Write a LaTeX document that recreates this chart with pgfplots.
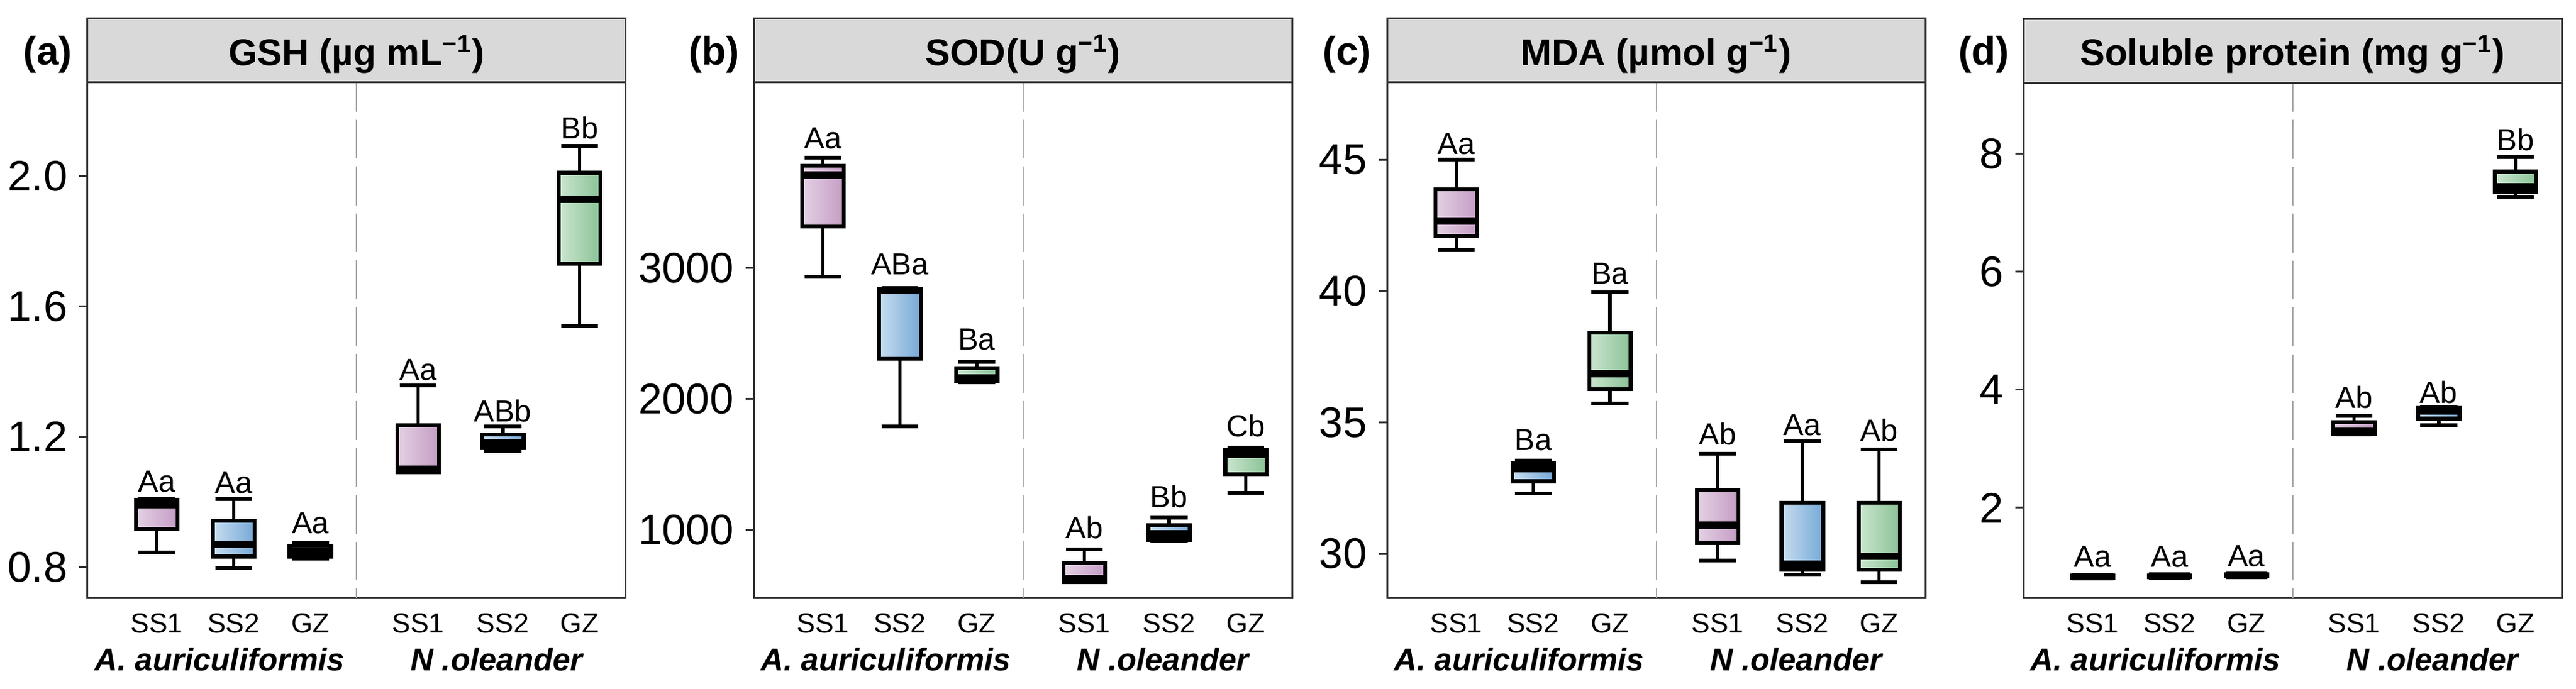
\documentclass[border=0pt]{standalone}
\usepackage{fontspec}
\setmainfont{Liberation Sans}
\usepackage{pgfplots}
\pgfplotsset{compat=1.18}
\definecolor{frame}{RGB}{51,51,51}
\definecolor{stripgray}{RGB}{217,217,217}
\definecolor{sepgray}{RGB}{168,168,168}
\definecolor{pinkL}{RGB}{228,210,228}
\definecolor{pinkD}{RGB}{196,156,196}
\definecolor{blueL}{RGB}{200,222,240}
\definecolor{blueD}{RGB}{118,168,214}
\definecolor{greenL}{RGB}{204,230,208}
\definecolor{greenD}{RGB}{138,194,150}

% box: left, centre, right, lower whisker, q1, median, q3, upper whisker, colour
\newcommand{\mbx}[9]{%
\addplot[draw=black, line width=1.1pt] coordinates {(#2,#4) (#2,#5)};
\addplot[draw=black, line width=1.1pt] coordinates {(#2,#7) (#2,#8)};
\addplot[draw=black, line width=1.3pt, left color=#9L, right color=#9D] coordinates {(#1,#5) (#3,#5) (#3,#7) (#1,#7)} -- cycle;
\addplot[draw=black, line width=2.3pt] coordinates {(#1,#6) (#3,#6)};}
% whisker caps: left, right, lower whisker, upper whisker
\newcommand{\cp}[4]{%
\addplot[draw=black, line width=1.2pt] coordinates {(#1,#3) (#2,#3)};
\addplot[draw=black, line width=1.2pt] coordinates {(#1,#4) (#2,#4)};}

\newcommand{\lab}[3]{\node[anchor=base, inner sep=0pt, font=\fontsize{9.8}{10}\selectfont] at (axis cs:#1,#2) {#3};}
\newcommand{\cat}[2]{\node[anchor=north, inner sep=0pt, font=\fontsize{8.9}{9}\selectfont] at ([yshift=-4.7pt]rel axis cs:#1,0) {#2};}

\newcommand{\decor}[2]{%
  \draw[sepgray, line width=0.4pt, dash pattern=on 12.5pt off 2.6pt, dash phase=-12pt] (rel axis cs:0.5,1) -- (rel axis cs:0.5,0);
  \draw[fill=stripgray, draw=frame, line width=0.6pt] (rel axis cs:0,1) rectangle ([yshift=20.6pt]rel axis cs:1,1);
  \node[font=\bfseries\fontsize{12}{12}\selectfont, inner sep=0pt] at ([yshift=9.1pt]rel axis cs:0.5,1) {#1};
  \node[font=\bfseries\fontsize{12.8}{13}\selectfont, inner sep=0pt] at ([xshift=-12.8pt,yshift=9.1pt]rel axis cs:0,1) {#2};
  \cat{0.12857}{SS1}\cat{0.27143}{SS2}\cat{0.41429}{GZ}
  \cat{0.61429}{SS1}\cat{0.77143}{SS2}\cat{0.91429}{GZ}
  \node[anchor=north, inner sep=0pt, font=\bfseries\itshape\fontsize{10.2}{10}\selectfont] at ([yshift=-15.8pt]rel axis cs:0.2457,0) {A. auriculiformis};
  \node[anchor=north, inner sep=0pt, font=\bfseries\itshape\fontsize{10.2}{10}\selectfont] at ([yshift=-15.8pt]rel axis cs:0.76,0) {N .oleander};
}

\pgfplotsset{
  panel/.style={
    scale only axis, width=173.4pt, height=166.2pt,
    anchor=south west,
    xmin=0, xmax=7, xtick=\empty,
    ytick pos=left,
    yticklabel style={font=\fontsize{13.8}{14}\selectfont, inner xsep=3.6pt},
    /pgf/number format/assume math mode=true,
    scaled y ticks=false,
    tick align=outside, major tick length=2.7pt,
    tick style={draw=frame, line width=0.6pt},
    axis line style={draw=frame, line width=0.6pt},
    clip=false,
  }
}

\begin{document}
\begin{tikzpicture}
% (a) GSH
\begin{axis}[panel, at={(28.2pt,29.2pt)}, ymin=0.704, ymax=2.287, ytick={0.8,1.2,1.6,2.0},
  /pgf/number format/fixed, /pgf/number format/fixed zerofill, /pgf/number format/precision=1]
\mbx{0.63}{0.9}{1.17}{0.845}{0.917}{0.992}{1.007}{1.008}{pink}
\mbx{1.63}{1.9}{2.17}{0.797}{0.833}{0.870}{0.942}{1.008}{blue}
\mbx{2.63}{2.9}{3.17}{0.825}{0.832}{0.848}{0.866}{0.873}{green}
\mbx{4.03}{4.3}{4.57}{1.090}{1.091}{1.100}{1.235}{1.357}{pink}
\mbx{5.13}{5.4}{5.67}{1.155}{1.165}{1.182}{1.207}{1.231}{blue}
\mbx{6.13}{6.4}{6.67}{1.540}{1.731}{1.928}{2.010}{2.093}{green}
\cp{0.66}{1.14}{0.845}{1.008}
\cp{1.66}{2.14}{0.797}{1.008}
\cp{2.66}{3.14}{0.825}{0.873}
\cp{4.06}{4.54}{1.090}{1.357}
\cp{5.16}{5.64}{1.155}{1.231}
\cp{6.16}{6.64}{1.540}{2.093}
\lab{0.9}{1.030}{Aa}
\lab{1.9}{1.027}{Aa}
\lab{2.9}{0.904}{Aa}
\lab{4.3}{1.373}{Aa}
\lab{5.4}{1.245}{ABb}
\lab{6.4}{2.115}{Bb}
\decor{GSH (µg mL\textsuperscript{−1})}{(a)}
\end{axis}
% (b) SOD
\begin{axis}[panel, at={(242.8pt,29.2pt)}, ymin=476.8, ymax=4415, ytick={1000,2000,3000},
  /pgf/number format/1000 sep={}]
\mbx{0.63}{0.9}{1.17}{2933}{3316}{3709}{3780}{3842}{pink}
\mbx{1.63}{1.9}{2.17}{1790}{2306}{2828}{2840}{2845}{blue}
\mbx{2.63}{2.9}{3.17}{2125}{2135}{2160}{2235}{2280}{green}
\mbx{4.03}{4.3}{4.57}{600}{602}{630}{747}{851}{pink}
\mbx{5.13}{5.4}{5.67}{915}{925}{970}{1036}{1093}{blue}
\mbx{6.13}{6.4}{6.67}{1283}{1425}{1575}{1609}{1628}{green}
\cp{0.66}{1.14}{2933}{3842}
\cp{1.66}{2.14}{1790}{2845}
\cp{2.66}{3.14}{2125}{2280}
\cp{4.06}{4.54}{600}{851}
\cp{5.16}{5.64}{915}{1093}
\cp{6.16}{6.64}{1283}{1628}
\lab{0.9}{3908}{Aa}
\lab{1.9}{2946}{ABa}
\lab{2.9}{2375}{Ba}
\lab{4.3}{932}{Ab}
\lab{5.4}{1169}{Bb}
\lab{6.4}{1711}{Cb}
\decor{SOD(U g\textsuperscript{−1})}{(b)}
\end{axis}
% (c) MDA
\begin{axis}[panel, at={(446.8pt,29.2pt)}, ymin=28.30, ymax=47.94, ytick={30,35,40,45}]
\mbx{0.63}{0.9}{1.17}{41.55}{42.10}{42.67}{43.88}{45.00}{pink}
\mbx{1.63}{1.9}{2.17}{32.29}{32.75}{33.24}{33.45}{33.55}{blue}
\mbx{2.63}{2.9}{3.17}{35.72}{36.27}{36.86}{38.42}{39.95}{green}
\mbx{4.03}{4.3}{4.57}{29.73}{30.40}{31.09}{32.44}{33.80}{pink}
\mbx{5.13}{5.4}{5.67}{29.20}{29.39}{29.60}{31.94}{34.29}{blue}
\mbx{6.13}{6.4}{6.67}{28.91}{29.39}{29.90}{31.94}{33.97}{green}
\cp{0.66}{1.14}{41.55}{45.00}
\cp{1.66}{2.14}{32.29}{33.55}
\cp{2.66}{3.14}{35.72}{39.95}
\cp{4.06}{4.54}{29.73}{33.80}
\cp{5.16}{5.64}{29.20}{34.29}
\cp{6.16}{6.64}{28.91}{33.97}
\lab{0.9}{45.22}{Aa}
\lab{1.9}{33.93}{Ba}
\lab{2.9}{40.28}{Ba}
\lab{4.3}{34.14}{Ab}
\lab{5.4}{34.50}{Aa}
\lab{6.4}{34.29}{Ab}
\decor{MDA (µmol g\textsuperscript{−1})}{(c)}
\end{axis}
% (d) Soluble protein
\begin{axis}[panel, at={(651.8pt,29.2pt)}, ymin=0.463, ymax=9.21, ytick={2,4,6,8}]
\mbx{0.63}{0.9}{1.17}{0.80}{0.81}{0.83}{0.85}{0.86}{pink}
\mbx{1.63}{1.9}{2.17}{0.81}{0.82}{0.84}{0.855}{0.865}{blue}
\mbx{2.63}{2.9}{3.17}{0.83}{0.84}{0.855}{0.87}{0.88}{green}
\mbx{4.03}{4.3}{4.57}{3.24}{3.26}{3.30}{3.45}{3.56}{pink}
\mbx{5.13}{5.4}{5.67}{3.40}{3.51}{3.64}{3.69}{3.70}{blue}
\mbx{6.13}{6.4}{6.67}{7.27}{7.36}{7.44}{7.70}{7.95}{green}
\cp{0.66}{1.14}{0.80}{0.86}
\cp{1.66}{2.14}{0.81}{0.865}
\cp{2.66}{3.14}{0.83}{0.88}
\cp{4.06}{4.54}{3.24}{3.56}
\cp{5.16}{5.64}{3.40}{3.70}
\cp{6.16}{6.64}{7.27}{7.95}
\lab{0.9}{0.99}{Aa}
\lab{1.9}{0.99}{Aa}
\lab{2.9}{1.00}{Aa}
\lab{4.3}{3.69}{Ab}
\lab{5.4}{3.77}{Ab}
\lab{6.4}{8.06}{Bb}
\decor{Soluble protein (mg g\textsuperscript{−1})}{(d)}
\end{axis}
\pgfresetboundingbox
\path (0,0) rectangle (829.8pt,222pt);
\end{tikzpicture}
\end{document}
